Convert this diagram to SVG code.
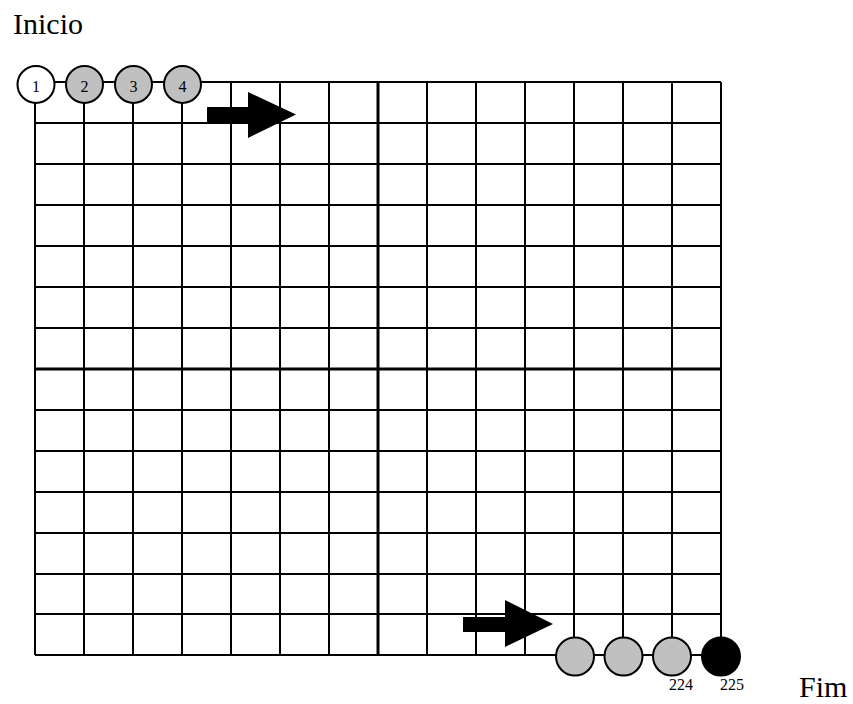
<svg xmlns="http://www.w3.org/2000/svg" width="853" height="704" viewBox="0 0 853 704">
<style>
.g{stroke:#000;stroke-width:2;fill:none}
.t{stroke:#000;stroke-width:3;fill:none}
.c{stroke:#000;stroke-width:2}
.txt{font-family:"Liberation Serif","Times New Roman",serif;fill:#000}
.big{font-size:30px}
.sm{font-size:16px;text-anchor:middle}
</style>
<rect width="853" height="704" fill="#fff"/>
<text class="txt big" x="13" y="34">Inicio</text>
<text class="txt big" x="799" y="697">Fim</text>
<g id="connectors">
<path class="g" d="M35 82V655M84 82V655M133 82V655M182 82V655M231 82V655M280 82V655M329 82V655M427 82V655M476 82V655M525 82V655M574 82V655M623 82V655M672 82V655M721 82V655"/>
<path class="g" d="M35 82H721M35 123H721M35 164H721M35 205H721M35 246H721M35 287H721M35 328H721M35 410H721M35 451H721M35 492H721M35 533H721M35 574H721M35 614H721M35 655H721"/>
<path class="t" d="M378 82V655M35 369H721"/>
<polygon id="arrow1" points="207,107 248,107 248,92 296,114.5 248,138 248,122 207,122" fill="#000"/>
<polygon id="arrow2" points="463,617 505,617 505,600 553,624 505,647 505,632 463,632" fill="#000"/>
</g>
<g id="n1"><circle class="c" cx="36" cy="84.5" r="18.5" fill="#fff"/><text class="txt sm" x="36" y="92">1</text></g>
<g id="n2"><circle class="c" cx="84.5" cy="84.5" r="18.5" fill="#c0c0c0"/><text class="txt sm" x="84.5" y="92">2</text></g>
<g id="n3"><circle class="c" cx="133.5" cy="84.5" r="18.5" fill="#c0c0c0"/><text class="txt sm" x="133.5" y="92">3</text></g>
<g id="n4"><circle class="c" cx="182.5" cy="84.5" r="18.5" fill="#c0c0c0"/><text class="txt sm" x="182.5" y="92">4</text></g>
<g id="n222"><circle class="c" cx="575" cy="656.5" r="19" fill="#c0c0c0"/></g>
<g id="n223"><circle class="c" cx="623.5" cy="656.5" r="19" fill="#c0c0c0"/></g>
<g id="n224"><circle class="c" cx="672" cy="656.5" r="19" fill="#c0c0c0"/><text class="txt sm" x="681" y="690">224</text></g>
<g id="n225"><circle class="c" cx="721" cy="656.5" r="19" fill="#000"/><text class="txt sm" x="732" y="690">225</text></g>
</svg>
